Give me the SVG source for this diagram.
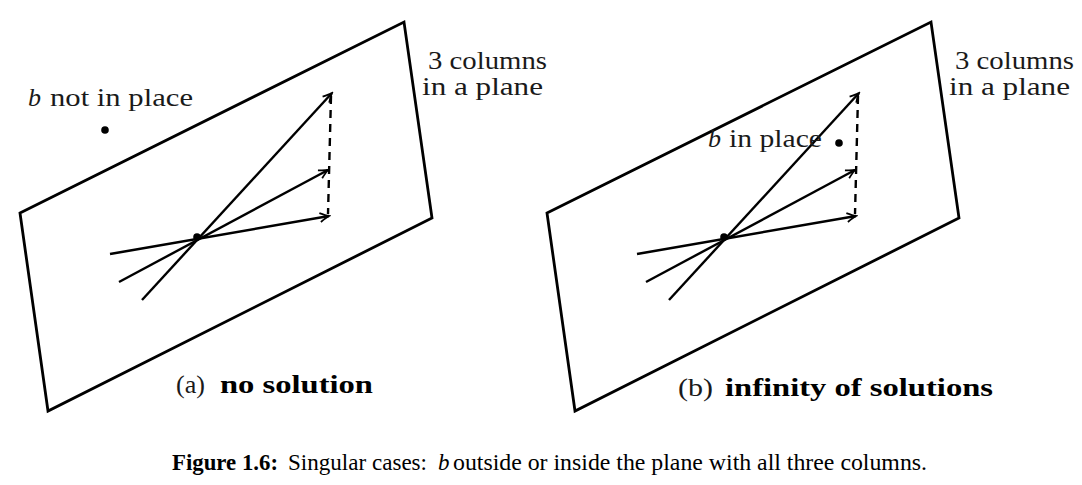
<svg xmlns="http://www.w3.org/2000/svg" width="1082" height="485" viewBox="0 0 1082 485">
<style>
.frame{fill:none;stroke:#000;stroke-width:2.8;stroke-linejoin:miter}
.vec{fill:none;stroke:#000;stroke-width:2.4;stroke-linecap:butt}
.dash{fill:none;stroke:#000;stroke-width:2.4;stroke-dasharray:8,6}
.lbl{font-family:'Liberation Serif','DejaVu Serif','Noto Serif',serif;font-size:26px;fill:#1a1a1a}
.bold{font-weight:bold;fill:#000}
.ital{font-style:italic}
.cap{font-family:'Liberation Serif','DejaVu Serif','Noto Serif',serif;font-size:23px;fill:#000}
</style>
<defs>
<marker id="arr" viewBox="-10 -6 12 12" markerWidth="12" markerHeight="12" refX="0" refY="0" orient="auto" markerUnits="userSpaceOnUse">
<path d="M-9,-4.5 Q-3,-1 0,0 Q-3,1 -9,4.5" fill="none" stroke="#000" stroke-width="1.8"/>
</marker>
</defs>
<g id="panel-a">
<polygon class="frame" points="20,213 404,22 432,218 48,411"/>
<g id="connectors-a">
<line class="vec" x1="142" y1="300" x2="332" y2="93" marker-end="url(#arr)"/>
<line class="vec" x1="119" y1="282" x2="328" y2="170" marker-end="url(#arr)"/>
<line class="vec" x1="110" y1="254" x2="329" y2="216" marker-end="url(#arr)"/>
<line class="dash" x1="331" y1="96" x2="328" y2="214"/>
</g>
<circle cx="197" cy="237" r="3.8" fill="#000"/>
<circle cx="105" cy="130" r="3.8" fill="#000"/>
<text class="lbl" font-family="Liberation Serif, DejaVu Serif, serif" x="428" y="69" textLength="119" lengthAdjust="spacingAndGlyphs">3 columns</text>
<text class="lbl" font-family="Liberation Serif, DejaVu Serif, serif" x="422" y="95" textLength="121" lengthAdjust="spacingAndGlyphs">in a plane</text>
<text class="lbl ital" font-family="Liberation Serif, DejaVu Serif, serif" x="28" y="106">b</text>
<text class="lbl" font-family="Liberation Serif, DejaVu Serif, serif" x="50" y="106" textLength="143" lengthAdjust="spacingAndGlyphs">not in place</text>
<text class="lbl" font-family="Liberation Serif, DejaVu Serif, serif" x="176" y="393" textLength="29" lengthAdjust="spacingAndGlyphs">(a)</text>
<text class="lbl bold" font-family="Liberation Serif, DejaVu Serif, serif" x="220" y="393" textLength="153" lengthAdjust="spacingAndGlyphs">no solution</text>
</g>
<g id="panel-b">
<polygon class="frame" points="547,213 931,22 959,218 575,411"/>
<g id="connectors-b">
<line class="vec" x1="669" y1="300" x2="859" y2="93" marker-end="url(#arr)"/>
<line class="vec" x1="646" y1="282" x2="855" y2="170" marker-end="url(#arr)"/>
<line class="vec" x1="637" y1="254" x2="856" y2="216" marker-end="url(#arr)"/>
<line class="dash" x1="858" y1="96" x2="855" y2="214"/>
</g>
<circle cx="724" cy="237" r="3.8" fill="#000"/>
<circle cx="839" cy="143" r="3.8" fill="#000"/>
<text class="lbl" font-family="Liberation Serif, DejaVu Serif, serif" x="955" y="69" textLength="119" lengthAdjust="spacingAndGlyphs">3 columns</text>
<text class="lbl" font-family="Liberation Serif, DejaVu Serif, serif" x="949" y="95" textLength="121" lengthAdjust="spacingAndGlyphs">in a plane</text>
<text class="lbl ital" font-family="Liberation Serif, DejaVu Serif, serif" x="708" y="147">b</text>
<text class="lbl" font-family="Liberation Serif, DejaVu Serif, serif" x="729" y="147" textLength="93" lengthAdjust="spacingAndGlyphs">in place</text>
<text class="lbl" font-family="Liberation Serif, DejaVu Serif, serif" x="678" y="396" textLength="35" lengthAdjust="spacingAndGlyphs">(b)</text>
<text class="lbl bold" font-family="Liberation Serif, DejaVu Serif, serif" x="725" y="396" textLength="268" lengthAdjust="spacingAndGlyphs">infinity of solutions</text>
</g>
<g id="caption">
<text class="cap bold" font-family="Liberation Serif, DejaVu Serif, serif" x="172" y="470" textLength="106" lengthAdjust="spacingAndGlyphs">Figure 1.6:</text>
<text class="cap" font-family="Liberation Serif, DejaVu Serif, serif" x="288" y="470" textLength="139" lengthAdjust="spacingAndGlyphs">Singular cases:</text>
<text class="cap ital" font-family="Liberation Serif, DejaVu Serif, serif" x="438" y="470">b</text>
<text class="cap" font-family="Liberation Serif, DejaVu Serif, serif" x="453" y="470" textLength="474" lengthAdjust="spacingAndGlyphs">outside or inside the plane with all three columns.</text>
</g>
</svg>
